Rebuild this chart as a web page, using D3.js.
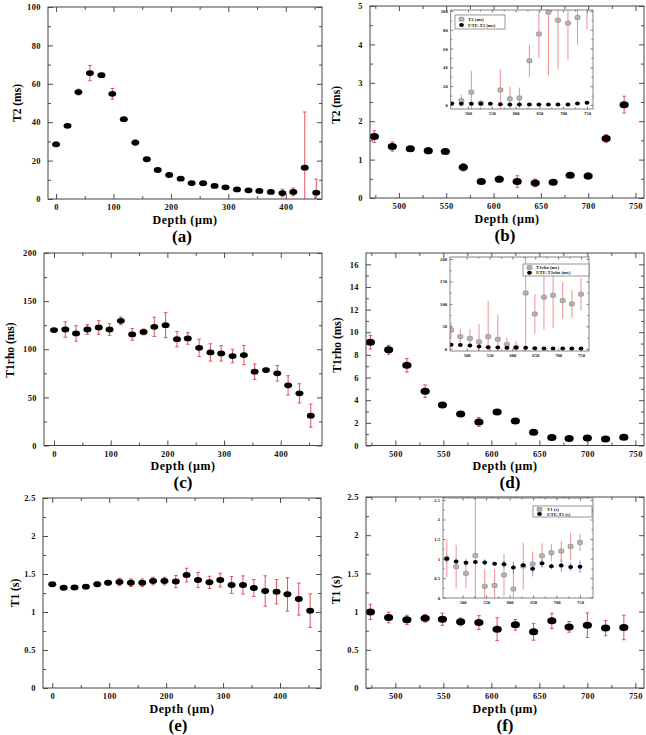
<!DOCTYPE html>
<html><head><meta charset="utf-8">
<script src="https://cdn.jsdelivr.net/npm/d3@7/dist/d3.min.js"></script>
<style>body{margin:0;background:#fff}</style>
</head><body><svg id="c" width="646" height="735"></svg>
<script>
// ---------- DATA ----------
const depthsShallow = [0, 20, 39, 59, 79, 98, 118, 138, 158, 177, 197, 217, 236, 256, 276, 295, 315, 335, 354, 374, 394, 413, 433, 453];
const depthsDeep = [474, 493, 512, 531, 549, 568, 587, 606, 625, 644, 663, 681, 700, 719, 738];
const insetDepths = [466, 486, 507, 527, 547, 568, 588, 608, 629, 649, 669, 689, 710, 730, 750];

const t2Shallow = [28.5, 38.1, 55.7, 65.6, 64.5, 54.8, 41.6, 29.4, 20.7, 15.1, 12.5, 10.6, 8.3, 8.2, 6.8, 6.1, 5.0, 4.5, 4.2, 3.7, 3.1, 3.7, 16.3, 3.3];
const t2ShallowErr = [1.2, 0.6, 1.5, 4, 1, 2.8, 0.8, 1.5, 0.5, 0.5, 0.5, 0.5, 0.5, 0.5, 0.5, 0.5, 0.5, 0.5, 0.5, 0.5, 2, 2, 29, 7];

const t2Deep = [1.60, 1.34, 1.28, 1.23, 1.21, 0.80, 0.43, 0.49, 0.43, 0.39, 0.41, 0.59, 0.57, 1.55, 2.43];
const t2DeepErr = [0.15, 0.12, 0.04, 0.08, 0.04, 0.1, 0.05, 0.08, 0.15, 0.1, 0.04, 0.05, 0.08, 0.1, 0.22];
const t2Inset = [null, 4.5, 13.5, 2, null, 16, 6.5, 7.5, 47, 75.5, 98.5, 90, 87, 93, 110];
const t2InsetErr = [0, 6.5, 23, 3.5, 0, 22, 13, 11, 17, 26, 67, 52, 39, 29, 30];

const t1rhoShallow = [119.9, 120.5, 116.4, 120.5, 122.6, 120.5, 129.5, 115.4, 118, 123.3, 125, 110.5, 111.2, 101.5, 96.7, 95.7, 92.9, 94, 76.7, 78.4, 75, 62.5, 54.2, 31];
const t1rhoShallowErr = [1, 8, 8, 5, 7, 6, 4, 6, 3, 10, 13, 8, 6, 9, 9, 8, 7, 10, 8, 2, 8, 10, 10, 12];

const t1rhoDeep = [9.12, 8.45, 7.08, 4.8, 3.57, 2.78, 2.08, 2.95, 2.16, 1.17, 0.7, 0.61, 0.67, 0.58, 0.73];
const t1rhoDeepErr = [0.6, 0.4, 0.6, 0.55, 0.15, 0.15, 0.4, 0.15, 0.1, 0.1, 0.05, 0.05, 0.05, 0.05, 0.05];
const t1rhoInset = [41.8, 27, 23, 15.7, 27, 21, 9.7, 3, 124, 77.6, 115, 119, 107.5, 100, 121.6];
const t1rhoInsetErr = [16, 18, 21, 40, 80, 54, 16, 15, 130, 44, 72, 72, 41, 31, 36];

const t1Shallow = [1.364, 1.32, 1.324, 1.333, 1.364, 1.385, 1.394, 1.385, 1.385, 1.407, 1.407, 1.40, 1.486, 1.42, 1.39, 1.42, 1.355, 1.355, 1.316, 1.276, 1.267, 1.232, 1.17, 1.018];
const t1ShallowErr = [0.02, 0.01, 0.01, 0.01, 0.03, 0.03, 0.05, 0.05, 0.05, 0.05, 0.05, 0.08, 0.09, 0.1, 0.08, 0.09, 0.11, 0.12, 0.11, 0.2, 0.16, 0.22, 0.21, 0.22];

const t1Deep = [0.996, 0.922, 0.892, 0.913, 0.90, 0.866, 0.857, 0.77, 0.827, 0.736, 0.879, 0.80, 0.822, 0.784, 0.792];
const t1DeepErr = [0.1, 0.07, 0.06, 0.05, 0.08, 0.05, 0.09, 0.15, 0.07, 0.11, 0.1, 0.07, 0.16, 0.1, 0.16];
const t1Inset = [1.0, 0.79, 0.62, 1.075, 0.29, 0.31, 0.58, 0.22, 0.81, 0.86, 1.07, 1.15, 1.19, 1.31, 1.41];
const t1InsetErr = [0.48, 0.56, 0.38, 1.5, 0.44, 0.42, 0.54, 0.62, 0.6, 0.32, 0.32, 0.22, 0.26, 0.35, 0.22];

const xTicksShallow = [0, 100, 200, 300, 400];
const xTicksDeep = [500, 550, 600, 650, 700, 750];
const yTicksT2 = [0, 20, 40, 60, 80, 100];
const yTicksT2Deep = [0, 1, 2, 3, 4, 5];
const yTicksT1rho = [0, 50, 100, 150, 200];
const yTicksT1rhoDeep = [0, 2, 4, 6, 8, 10, 12, 14, 16];
const yTicksT1 = [0, 0.5, 1, 1.5, 2, 2.5];

// ---------- DRAW ----------
const svg = d3.select('#c');
svg.append('rect').attr('width', 646).attr('height', 735).attr('fill', '#fff');
const defs = svg.append('defs');
const SERIF = "'Liberation Serif','DejaVu Serif',serif";
const RED = '#e0505c';
const PINK = '#f09090';
const BLUE = '#5a7fe0';

function range(a, b, s) { const r = []; for (let v = a; v <= b + 1e-9; v += s) r.push(+v.toFixed(4)); return r; }

function frameAxes(g, x, y, L, T, R, B, o) {
  const mk = (axis, tr) => g.append('g').attr('transform', tr).call(axis).call(s => s.select('.domain').remove());
  const fs = o.fs, maj = o.maj, min = o.min;
  const xMin = o.xMinor || [], yMin = o.yMinor || [];
  const bx = mk(d3.axisBottom(x).tickValues(o.xt).tickSize(-maj).tickPadding(o.xpad).tickFormat(o.xfmt || d3.format('d')), `translate(0,${B})`);
  const ly = mk(d3.axisLeft(y).tickValues(o.yt).tickSize(-maj).tickPadding(o.ypad).tickFormat(o.yfmt || (d => d)), `translate(${L},0)`);
  mk(d3.axisTop(x).tickValues(o.xt).tickSize(-maj).tickFormat(''), `translate(0,${T})`);
  mk(d3.axisRight(y).tickValues(o.yt).tickSize(-maj).tickFormat(''), `translate(${R},0)`);
  mk(d3.axisBottom(x).tickValues(xMin).tickSize(-min).tickFormat(''), `translate(0,${B})`);
  mk(d3.axisTop(x).tickValues(xMin).tickSize(-min).tickFormat(''), `translate(0,${T})`);
  mk(d3.axisLeft(y).tickValues(yMin).tickSize(-min).tickFormat(''), `translate(${L},0)`);
  mk(d3.axisRight(y).tickValues(yMin).tickSize(-min).tickFormat(''), `translate(${R},0)`);
  [bx, ly].forEach(s => s.selectAll('text').attr('font-family', SERIF).attr('font-weight', 'bold')
    .attr('font-size', fs).attr('letter-spacing', o.ls || 0).attr('fill', '#111'));
  g.selectAll('.tick line').attr('stroke', '#222').attr('stroke-width', o.tw || 0.8);
  g.append('rect').attr('x', L).attr('y', T).attr('width', R - L).attr('height', B - T)
    .attr('fill', 'none').attr('stroke', o.frameColor || '#444').attr('stroke-width', o.fw || 1);
}

function errBars(g, xs, ys, es, x, y, color, cap, sw) {
  const data = xs.map((d, i) => ({ d, v: ys[i], e: es[i] })).filter(p => p.v != null && p.e > 0);
  g.selectAll(null).data(data).join('line')
    .attr('x1', p => x(p.d)).attr('x2', p => x(p.d))
    .attr('y1', p => y(p.v - p.e)).attr('y2', p => y(p.v + p.e))
    .attr('stroke', color).attr('stroke-width', sw);
  [1, -1].forEach(sg => {
    g.selectAll(null).data(data).join('line')
      .attr('x1', p => x(p.d) - cap).attr('x2', p => x(p.d) + cap)
      .attr('y1', p => y(p.v + sg * p.e)).attr('y2', p => y(p.v + sg * p.e))
      .attr('stroke', color).attr('stroke-width', sw);
  });
}

function blackDots(g, xs, ys, x, y, rx, ry) {
  const data = xs.map((d, i) => ({ d, v: ys[i] })).filter(p => p.v != null);
  g.selectAll(null).data(data).join('ellipse')
    .attr('cx', p => x(p.d)).attr('cy', p => y(p.v)).attr('rx', rx).attr('ry', ry).attr('fill', '#000');
}

function grayMarks(g, xs, ys, x, y, w, h) {
  const data = xs.map((d, i) => ({ d, v: ys[i] })).filter(p => p.v != null);
  g.selectAll(null).data(data).join('rect')
    .attr('x', p => x(p.d) - w / 2).attr('y', p => y(p.v) - h / 2).attr('width', w).attr('height', h)
    .attr('rx', 1).attr('fill', '#b4b4b4').attr('stroke', '#808080').attr('stroke-width', 0.6);
}

let clipN = 0;
function clipRect(L, T, R, B) {
  const id = 'cl' + (clipN++);
  defs.append('clipPath').attr('id', id).append('rect').attr('x', L).attr('y', T).attr('width', R - L).attr('height', B - T);
  return `url(#${id})`;
}

function mainPanel(p) {
  const [L, T, R, B] = p.frame;
  const x = d3.scaleLinear().domain(p.xd).range([L, R]);
  const y = d3.scaleLinear().domain(p.yd).range([B, T]);
  const g = svg.append('g');
  const cp = g.append('g').attr('clip-path', clipRect(L, T, R, B));
  errBars(cp, p.xs, p.ys, p.es, x, y, RED, 1.8, 1);
  blackDots(cp, p.xs, p.ys, x, y, p.rx, p.ry);
  frameAxes(g, x, y, L, T, R, B, { xt: p.xt, yt: p.yt, xMinor: p.xMinor, yMinor: p.yMinor, fs: 8.5, maj: 5, min: 3, xpad: 5.3, ypad: 7, ls: 0.4 });
  g.append('text').attr('x', (L + R) / 2).attr('y', B + 24.5).attr('text-anchor', 'middle')
    .attr('font-family', SERIF).attr('font-weight', 'bold').attr('font-size', 12).attr('letter-spacing', 0.6).text('Depth (µm)');
  g.append('text').attr('transform', `translate(${p.ylx},${p.yly}) rotate(-90)`).attr('text-anchor', 'middle').attr('dy', '0.35em')
    .attr('font-family', SERIF).attr('font-weight', 'bold').attr('font-size', 11.5).text(p.ylab);
  g.append('text').attr('x', p.labx).attr('y', B + 42.5).attr('text-anchor', 'middle')
    .attr('font-family', SERIF).attr('font-weight', 'bold').attr('font-size', 17).text(p.lab);
}

function insetPanel(p) {
  const [L, T, R, B] = p.frame;
  const x = d3.scaleLinear().domain(p.xd).range([L, R]);
  const y = d3.scaleLinear().domain(p.yd).range([B, T]);
  const g = svg.append('g');
  g.append('rect').attr('x', L).attr('y', T).attr('width', R - L).attr('height', B - T).attr('fill', '#fff');
  const cp = g.append('g').attr('clip-path', clipRect(L, T, R, B));
  errBars(cp, insetDepths, p.gray, p.grayErr, x, y, PINK, 0, 1);
  errBars(cp, insetDepths, p.black, p.blackErr, x, y, BLUE, 0, 0.9);
  grayMarks(cp, insetDepths, p.gray, x, y, 5, 4);
  blackDots(cp, insetDepths, p.black, x, y, 2.4, 2);
  frameAxes(g, x, y, L, T, R, B, { xt: xTicksDeep, yt: p.yt, xMinor: range(525, 725, 50), yMinor: p.yMinor, fs: 4.6, maj: 2.5, min: 1.5, xpad: 2.5, ypad: 3, tw: 0.6, fw: 0.8, frameColor: '#666', yfmt: p.yfmt });
  const [lx, ly, lw, lh] = p.legend;
  const lg = g.append('g');
  lg.append('rect').attr('x', lx).attr('y', ly).attr('width', lw).attr('height', lh).attr('fill', '#fff').attr('stroke', '#555').attr('stroke-width', 0.6);
  lg.append('rect').attr('x', lx + 4).attr('y', ly + lh * 0.3 - 2).attr('width', 5).attr('height', 4).attr('rx', 1)
    .attr('fill', '#b4b4b4').attr('stroke', '#808080').attr('stroke-width', 0.6);
  lg.append('ellipse').attr('cx', lx + 6.5).attr('cy', ly + lh * 0.72).attr('rx', 2.4).attr('ry', 2).attr('fill', '#000');
  p.legendText.forEach((t, i) => {
    lg.append('text').attr('x', lx + p.legendTx).attr('y', ly + lh * (i ? 0.72 : 0.3)).attr('dy', '0.35em')
      .attr('font-family', SERIF).attr('font-weight', 'bold').attr('font-size', 4.8).attr('fill', '#222').text(t);
  });
}

// main panels
mainPanel({ frame: [48, 7, 322, 199], xd: [-14, 463], yd: [0, 100], xs: depthsShallow, ys: t2Shallow, es: t2ShallowErr,
  xt: xTicksShallow, yt: yTicksT2, xMinor: range(50, 450, 100), yMinor: range(10, 90, 20), rx: 4, ry: 2.9,
  ylab: 'T2 (ms)', ylx: 17, yly: 103, lab: '(a)', labx: 182 });
mainPanel({ frame: [370, 6, 644, 198], xd: [469.4, 759], yd: [0, 5], xs: depthsDeep, ys: t2Deep, es: t2DeepErr,
  xt: xTicksDeep, yt: yTicksT2Deep, xMinor: range(475, 725, 50), yMinor: range(0.5, 4.5, 1), rx: 4.6, ry: 3.5,
  ylab: 'T2 (ms)', ylx: 336, yly: 105, lab: '(b)', labx: 505 });
mainPanel({ frame: [44, 253, 322, 445.5], xd: [-17.6, 472.8], yd: [0, 200], xs: depthsShallow, ys: t1rhoShallow, es: t1rhoShallowErr,
  xt: xTicksShallow, yt: yTicksT1rho, xMinor: range(50, 450, 100), yMinor: range(25, 175, 50), rx: 4, ry: 2.9,
  ylab: 'T1rho (ms)', ylx: 10, yly: 350, lab: '(c)', labx: 183 });
mainPanel({ frame: [366, 253, 644, 445.5], xd: [469.4, 759], yd: [0, 17], xs: depthsDeep, ys: t1rhoDeep, es: t1rhoDeepErr,
  xt: xTicksDeep, yt: yTicksT1rhoDeep, xMinor: range(475, 725, 50), yMinor: range(1, 15, 2), rx: 4.6, ry: 3.5,
  ylab: 'T1rho (ms)', ylx: 337, yly: 345, lab: '(d)', labx: 510 });
mainPanel({ frame: [43, 498, 321, 688], xd: [-16.3, 472], yd: [0, 2.5], xs: depthsShallow, ys: t1Shallow, es: t1ShallowErr,
  xt: xTicksShallow, yt: yTicksT1, xMinor: range(50, 450, 100), yMinor: range(0.25, 2.25, 0.5), rx: 4, ry: 3,
  ylab: 'T1 (s)', ylx: 15, yly: 593, lab: '(e)', labx: 178 });
mainPanel({ frame: [366, 497, 644, 688], xd: [469.4, 759], yd: [0, 2.5], xs: depthsDeep, ys: t1Deep, es: t1DeepErr,
  xt: xTicksDeep, yt: yTicksT1, xMinor: range(475, 725, 50), yMinor: range(0.25, 2.25, 0.5), rx: 4.6, ry: 3.5,
  ylab: 'T1 (s)', ylx: 336, yly: 590, lab: '(f)', labx: 505 });

// insets
insetPanel({ frame: [450.7, 10, 593, 109], xd: [463.7, 762.6], yd: [-4.3, 101],
  gray: t2Inset, grayErr: t2InsetErr, black: t2Deep, blackErr: t2DeepErr,
  yt: [0, 20, 40, 60, 80, 100], yMinor: range(10, 90, 20),
  legend: [455, 15, 50, 14], legendTx: 13, legendText: ['T2 (ms)', 'UTE-T2 (ms)'] });
insetPanel({ frame: [450, 257, 589, 351], xd: [463.5, 767.5], yd: [-5, 204.5],
  gray: t1rhoInset, grayErr: t1rhoInsetErr, black: t1rhoDeep, blackErr: t1rhoDeepErr,
  yt: [0, 50, 100, 150, 200], yMinor: range(25, 175, 50),
  legend: [523, 264, 66, 12], legendTx: 13, legendText: ['T1rho (ms)', 'UTE-T1rho (ms)'] });
insetPanel({ frame: [443, 498, 593, 598], xd: [458, 777.7], yd: [-0.01, 2.55],
  gray: t1Inset, grayErr: t1InsetErr, black: t1Deep, blackErr: t1DeepErr,
  yt: [0, 0.5, 1, 1.5, 2, 2.5], yMinor: range(0.25, 2.25, 0.5), yfmt: d => d,
  legend: [533, 506, 59, 11], legendTx: 14, legendText: ['T1 (s)', 'UTE-T1 (s)'] });
</script>
</body></html>
